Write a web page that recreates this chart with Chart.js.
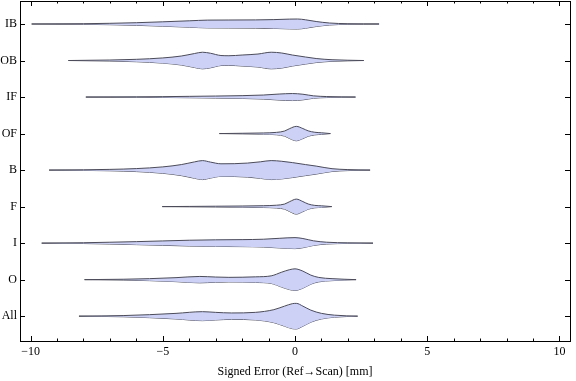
<!DOCTYPE html>
<html>
<head>
<meta charset="utf-8">
<script src="https://cdn.jsdelivr.net/npm/chart.js@4"></script>
<style>
  body { margin: 0; background: #fff; }
</style>
</head>
<body>
<canvas id="violin" width="576" height="381"></canvas>
<script>
// categories, bottom to top
const categories = ["All", "O", "I", "F", "B", "OF", "IF", "OB", "IB"];
const xTicks = [-10, -5, 0, 5, 10];

// violin outlines: [signed error in mm, density (half width)]
const violinIB = [[-9.96, 0], [-8, 0.3], [-7, 0.7], [-6, 1.3], [-5, 2.2], [-4, 3.2], [-3.3, 3.9], [-2.5, 4.0],
  [-1.5, 4.1], [-0.8, 4.4], [-0.2, 4.9], [0.1, 5.0], [0.4, 4.2], [0.8, 2.5], [1.3, 1.0], [2, 0.3], [3.18, 0]];
const violinOB = [[-8.57, 0], [-7, 0.5], [-6, 1.2], [-5, 2.6], [-4.3, 4.5], [-3.8, 7.0], [-3.5, 8.3], [-3.2, 7.3],
  [-2.8, 5.0], [-2.5, 4.8], [-2.0, 5.5], [-1.4, 6.5], [-0.9, 8.3], [-0.5, 7.5], [-0.1, 5.5], [0.4, 3.5],
  [0.8, 2.0], [1.4, 0.8], [2.0, 0.3], [2.6, 0]];
const violinIF = [[-7.91, 0], [-6, 0.2], [-5, 0.4], [-4, 0.7], [-3, 1.0], [-2, 1.4], [-1.2, 2.0], [-0.6, 3.0],
  [-0.1, 3.5], [0.3, 2.8], [0.7, 1.2], [1.2, 0.5], [2.29, 0]];
const violinOF = [[-2.86, 0], [-2, 0.3], [-1.2, 0.6], [-0.7, 1.2], [-0.4, 2.5], [-0.2, 5.0], [0.05, 7.2],
  [0.3, 5.0], [0.5, 2.7], [0.75, 1.3], [1.0, 0.8], [1.34, 0]];
const violinB = [[-9.3, 0], [-8, 0.3], [-7, 0.7], [-6, 1.5], [-5, 3.2], [-4.3, 5.5], [-3.8, 8.2], [-3.5, 9.5],
  [-3.2, 8.0], [-2.8, 6.3], [-2.3, 6.4], [-1.8, 7.0], [-1.3, 8.3], [-0.9, 9.5], [-0.5, 8.8], [-0.1, 7.5],
  [0.4, 5.5], [0.8, 4.0], [1.4, 1.4], [2.0, 0.5], [2.84, 0]];
const violinF = [[-5.02, 0], [-4, 0.2], [-3, 0.4], [-2, 0.6], [-1.2, 0.9], [-0.7, 1.4], [-0.4, 2.5], [-0.2, 5.0],
  [0.05, 7.5], [0.3, 5.0], [0.5, 2.6], [0.75, 1.2], [1.0, 0.8], [1.39, 0]];
const violinI = [[-9.58, 0], [-8, 0.4], [-7, 0.9], [-6, 1.5], [-5, 2.2], [-4, 2.9], [-3, 3.3], [-2, 3.5],
  [-1.2, 3.9], [-0.6, 4.8], [0, 5.5], [0.3, 4.6], [0.7, 2.3], [1.2, 0.9], [2, 0.3], [2.95, 0]];
const violinO = [[-7.96, 0], [-6.5, 0.4], [-5.5, 1.0], [-4.5, 2.0], [-3.6, 3.2], [-3.0, 2.6], [-2.5, 2.3],
  [-1.5, 2.8], [-0.9, 3.8], [-0.5, 7.5], [-0.2, 10.0], [0, 10.8], [0.3, 8.5], [0.6, 4.5], [0.9, 2.2],
  [1.4, 1.0], [2.31, 0]];
const violinAll = [[-8.17, 0], [-6.5, 0.6], [-5.5, 1.5], [-4.5, 2.8], [-3.5, 4.5], [-3.0, 3.8], [-2.4, 3.2],
  [-1.5, 3.8], [-0.8, 6.5], [-0.4, 10], [-0.1, 12.5], [0.05, 12.8], [0.3, 10], [0.6, 6], [1.0, 2.8],
  [1.5, 1.0], [2.37, 0]];

const violins = {
  All: violinAll, O: violinO, I: violinI, F: violinF, B: violinB,
  OF: violinOF, IF: violinIF, OB: violinOB, IB: violinIB
};

const WIDTH_SCALE = 1 / 36.5; // density -> category units
const fillColor = "rgb(204,209,245)";
const edgeColor = "rgb(75,75,90)";
const serif = "'Liberation Serif', 'DejaVu Serif', serif";

const datasets = [];
categories.forEach((cat, i) => {
  const pts = violins[cat];
  const base = i + 1;
  const common = {
    borderColor: edgeColor,
    borderWidth: 1,
    pointRadius: 0,
    cubicInterpolationMode: "monotone"
  };
  datasets.push(Object.assign({
    label: cat + " upper",
    data: pts.map(p => ({ x: p[0], y: base + p[1] * WIDTH_SCALE })),
    backgroundColor: fillColor,
    fill: "+1"
  }, common));
  datasets.push(Object.assign({
    label: cat + " lower",
    data: pts.map(p => ({ x: p[0], y: base - p[1] * WIDTH_SCALE })),
    fill: false
  }, common));
});

// frame with inward ticks, like the original
const framePlugin = {
  id: "frame",
  afterDraw(chart) {
    const { ctx, chartArea: a, scales } = chart;
    const x = scales.x, y = scales.y;
    ctx.save();
    ctx.strokeStyle = "#000";
    ctx.lineWidth = 1;
    ctx.strokeRect(a.left + 0.5, a.top + 0.5, a.right - a.left, a.bottom - a.top);
    ctx.beginPath();
    for (let v = -10; v <= 10; v++) {
      const px = Math.round(x.getPixelForValue(v)) + 0.5;
      const len = v % 5 === 0 ? 5 : 2.5;
      ctx.moveTo(px, a.bottom);
      ctx.lineTo(px, a.bottom - len);
      ctx.moveTo(px, a.top);
      ctx.lineTo(px, a.top + len);
    }
    categories.forEach((c, i) => {
      const py = Math.round(y.getPixelForValue(i + 1)) + 0.5;
      ctx.moveTo(a.left, py);
      ctx.lineTo(a.left + 5, py);
      ctx.moveTo(a.right, py);
      ctx.lineTo(a.right - 5, py);
    });
    ctx.stroke();
    ctx.restore();
  }
};

new Chart(document.getElementById("violin"), {
  type: "line",
  data: { datasets: datasets },
  options: {
    responsive: false,
    animation: false,
    layout: { padding: { left: 0, right: 6, top: 1, bottom: 0 } },
    plugins: {
      legend: { display: false },
      tooltip: { enabled: false }
    },
    scales: {
      x: {
        type: "linear",
        min: -10.4,
        max: 10.4,
        grid: { display: false, drawTicks: false },
        border: { display: false },
        afterBuildTicks: s => { s.ticks = xTicks.map(v => ({ value: v })); },
        afterFit: s => { s.height = 40; s.paddingLeft = 0; s.paddingRight = 0; },
        ticks: {
          padding: 4,
          color: "#000",
          font: { family: serif, size: 12 },
          callback: v => (v < 0 ? "\u2212" + Math.abs(v) : String(v))
        },
        title: {
          display: true,
          text: "Signed Error (Ref\u2192Scan) [mm]",
          color: "#000",
          font: { family: serif, size: 12 },
          padding: { top: 0, bottom: 1.5 }
        }
      },
      y: {
        type: "linear",
        min: 0.32,
        max: 9.63,
        grid: { display: false, drawTicks: false },
        border: { display: false },
        afterBuildTicks: s => { s.ticks = categories.map((c, i) => ({ value: i + 1 })); },
        afterFit: s => { s.width = 20; s.paddingTop = 0; s.paddingBottom = 0; },
        ticks: {
          padding: 3,
          color: "#000",
          font: { family: serif, size: 12 },
          callback: v => categories[v - 1]
        }
      }
    }
  },
  plugins: [framePlugin]
});
</script>
</body>
</html>
